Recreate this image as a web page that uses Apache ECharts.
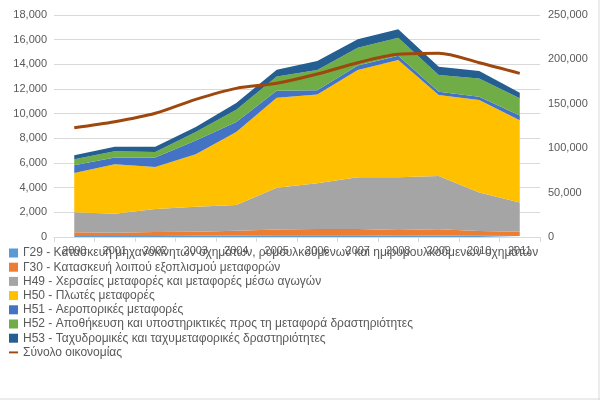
<!DOCTYPE html>
<html><head><meta charset="utf-8">
<script src="https://cdn.jsdelivr.net/npm/echarts@6/dist/echarts.min.js"></script>
<style>html,body{margin:0;padding:0;background:#fff}#c{width:600px;height:400px}</style>
</head><body><div id="c"></div>
<script>
var years = ['2000','2001','2002','2003','2004','2005','2006','2007','2008','2009','2010','2011'];
var names = [
 'Γ29 - Κατασκευή μηχανοκίνητων οχημάτων, ρυμουλκούμενων και ημιρυμουλκούμενων οχημάτων',
 'Γ30 - Κατασκευή λοιπού εξοπλισμού μεταφορών',
 'Η49 - Χερσαίες μεταφορές και μεταφορές μέσω αγωγών',
 'Η50 - Πλωτές μεταφορές',
 'Η51 - Αεροπορικές μεταφορές',
 'Η52 - Αποθήκευση και υποστηρικτικές προς τη μεταφορά δραστηριότητες',
 'Η53 - Ταχυδρομικές και ταχυμεταφορικές δραστηριότητες'
];
var lineName = 'Σύνολο οικονομίας';
var g29 = [80,80,80,100,120,150,150,150,100,120,100,80];
var g30 = [300,270,320,330,380,450,500,500,470,500,390,350];
var h49 = [1620,1540,1870,2020,2100,3400,3700,4190,4270,4330,3110,2370];
var h50 = [3180,4010,3410,4250,5910,7300,7200,8700,9510,6560,7500,6660];
var h51 = [630,540,760,1130,810,550,350,360,350,270,270,400];
var h52 = [490,520,460,680,1000,1170,1640,1450,1460,1350,1490,1380];
var h53 = [330,360,420,410,540,540,730,680,680,670,600,460];
var total = [123100,129800,139300,155000,167400,173100,183500,196300,205700,206900,196300,184300];
var colors = ['#5B9BD5','#ED7D31','#A5A5A5','#FFC000','#4472C4','#70AD47','#255E91'];
var lineColor = '#9E480E';

var areaData = [g29,g30,h49,h50,h51,h52,h53];
var series = areaData.map(function(d,i){
  return {name:names[i], type:'line', stack:'s', data:d, yAxisIndex:0,
    showSymbol:false, symbol:'none', lineStyle:{width:0}, areaStyle:{color:colors[i], opacity:1},
    itemStyle:{color:colors[i]}, emphasis:{disabled:true}, z:2};
});
series.push({name:lineName, type:'line', data:total, yAxisIndex:1, smooth:0.3, symbol:'none',
  lineStyle:{width:3, color:lineColor}, itemStyle:{color:lineColor}, z:5});

var txt = {color:'#595959', fontFamily:'Liberation Sans, Arial, sans-serif', fontSize:11};
var chart = echarts.init(document.getElementById('c'), null, {renderer:'canvas'});
chart.setOption({
  animation:false,
  backgroundColor:'#fff',
  grid:{left:54, right:60, top:15, bottom:163},
  legend:{orient:'vertical', left:4, top:242, itemWidth:9, itemHeight:9, itemGap:2.2,
    textStyle:Object.assign({}, txt, {fontSize:12, lineHeight:12}),
    data: names.map(function(n){return {name:n, icon:'rect'};}).concat([{name:lineName, icon:'path://M0,4 L14,4 L14,7 L0,7 Z'}])},
  xAxis:{type:'category', data:years, boundaryGap:true,
    axisLine:{lineStyle:{color:'#d9d9d9'}}, axisTick:{show:true, length:5, lineStyle:{color:'#d9d9d9'}},
    axisLabel:Object.assign({}, txt, {margin:8})},
  yAxis:[
    {type:'value', min:0, max:18000, interval:2000,
     axisLabel:Object.assign({}, txt, {formatter:function(v){return v.toLocaleString('en-US');}, margin:7}),
     splitLine:{lineStyle:{color:'#d9d9d9'}}, axisLine:{show:false}, axisTick:{show:false}},
    {type:'value', min:0, max:250000, interval:50000, position:'right',
     axisLabel:Object.assign({}, txt, {formatter:function(v){return v.toLocaleString('en-US');}, margin:8}),
     splitLine:{show:false}, axisLine:{show:false}, axisTick:{show:false}}
  ],
  graphic:[
    {type:'line', shape:{x1:599, y1:0, x2:599, y2:400}, style:{stroke:'#d9d9d9', lineWidth:1}},
    {type:'line', shape:{x1:0, y1:399, x2:600, y2:399}, style:{stroke:'#d9d9d9', lineWidth:1}}
  ],
  series:series
});
</script></body></html>
